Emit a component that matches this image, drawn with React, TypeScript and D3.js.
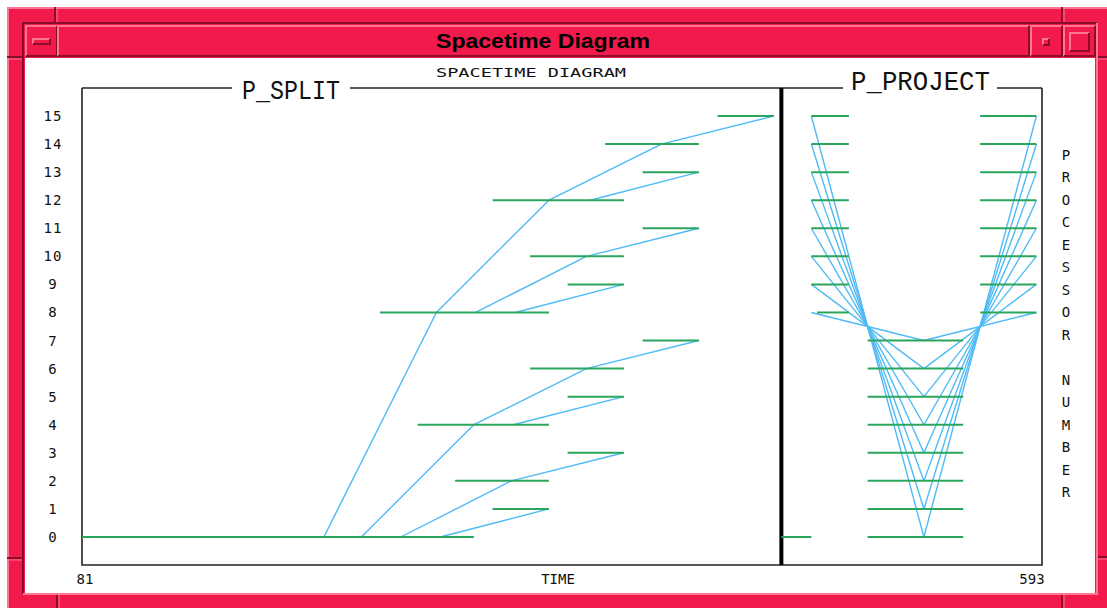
import * as d3 from "d3"

// busy intervals: [processor, start, end]
const splitBusy: [number, number, number][] = [
	[0, 81, 290],
	[1, 300, 330],
	[2, 280, 330],
	[3, 340, 370],
	[4, 260, 330],
	[5, 340, 370],
	[6, 320, 370],
	[7, 380, 410],
	[8, 240, 330],
	[9, 340, 370],
	[10, 320, 370],
	[11, 380, 410],
	[12, 300, 370],
	[13, 380, 410],
	[14, 360, 410],
	[15, 420, 450],
]

// messages: [from, sendTime, to, recvTime]
const splitMsgs: [number, number, number, number][] = [
	[0, 210, 8, 270],
	[0, 230, 4, 290],
	[0, 251, 2, 310],
	[0, 272, 1, 330],
	[8, 270, 12, 330],
	[8, 291, 10, 350],
	[8, 312, 9, 370],
	[4, 290, 6, 350],
	[4, 311, 5, 370],
	[2, 310, 3, 370],
	[12, 330, 14, 390],
	[12, 352, 13, 410],
	[10, 350, 11, 410],
	[6, 350, 7, 410],
	[14, 390, 15, 450],
]

const projectBusy: [number, number, number][] = [
	[0, 454, 470],
	[8, 473, 490],
	[9, 470, 490],
	[10, 470, 490],
	[11, 470, 490],
	[12, 470, 490],
	[13, 470, 490],
	[14, 470, 490],
	[15, 470, 490],
	[0, 500, 551],
	[1, 500, 551],
	[2, 500, 551],
	[3, 500, 551],
	[4, 500, 551],
	[5, 500, 551],
	[6, 500, 551],
	[7, 500, 551],
	[8, 560, 590],
	[9, 560, 590],
	[10, 560, 590],
	[11, 560, 590],
	[12, 560, 590],
	[13, 560, 590],
	[14, 560, 590],
	[15, 560, 590],
]

const projectMsgs: [number, number, number, number][] = [
	[15, 470, 0, 530],
	[14, 470, 1, 530],
	[13, 470, 2, 530],
	[12, 470, 3, 530],
	[11, 470, 4, 530],
	[10, 470, 5, 530],
	[9, 470, 6, 530],
	[8, 470, 7, 530],
	[0, 530, 15, 590],
	[1, 530, 14, 590],
	[2, 530, 13, 590],
	[3, 530, 12, 590],
	[4, 530, 11, 590],
	[5, 530, 10, 590],
	[6, 530, 9, 590],
	[7, 530, 8, 590],
]

const processors = d3.range(0, 16)
const timeDomain = [81, 593]
const phaseBreak = 454
const sideLabel = ["P", "R", "O", "C", "E", "S", "S", "O", "R", "", "N", "U", "M", "B", "E", "R"]

const RED = "#f2194b"
const LIGHT = "#ff7592"
const DARK = "#8a0d2b"
const GREEN = "#2aa65c"
const BLUE = "#4fbaf5"
const MONO = "'DejaVu Sans Mono', monospace"

function Bevel({ x, y, w, h, raised = true }) {
	const tl = raised ? LIGHT : DARK
	const br = raised ? DARK : LIGHT
	return (
		<g>
			<path d={`M${x},${y + h} V${y} H${x + w}`} stroke={tl} strokeWidth={2} fill="none" />
			<path d={`M${x + w},${y} V${y + h} H${x}`} stroke={br} strokeWidth={2} fill="none" />
		</g>
	)
}

function Frame() {
	return (
		<g>
			<rect x={7} y={7} width={1110} height={610} fill={RED} />
			<path d="M8,612 V8 H1112" stroke={LIGHT} strokeWidth={2} fill="none" />
			{/* corner separators */}
			{[55, 1062].map((x) => (
				<g key={"t" + x}>
					<line x1={x} y1={7} x2={x} y2={23} stroke={DARK} strokeWidth={2} />
					<line x1={x + 2} y1={7} x2={x + 2} y2={23} stroke={LIGHT} strokeWidth={1} />
				</g>
			))}
			{[57, 1062].map((x) => (
				<g key={"b" + x}>
					<line x1={x} y1={595} x2={x} y2={610} stroke={DARK} strokeWidth={2} />
					<line x1={x + 2} y1={595} x2={x + 2} y2={610} stroke={LIGHT} strokeWidth={1} />
				</g>
			))}
			{[57, 558].map((y) => (
				<g key={"l" + y}>
					<line x1={7} y1={y} x2={23} y2={y} stroke={DARK} strokeWidth={2} />
					<line x1={7} y1={y + 2} x2={23} y2={y + 2} stroke={LIGHT} strokeWidth={1} />
				</g>
			))}
			{[57, 557].map((y) => (
				<g key={"r" + y}>
					<line x1={1097} y1={y} x2={1110} y2={y} stroke={DARK} strokeWidth={2} />
					<line x1={1097} y1={y + 2} x2={1110} y2={y + 2} stroke={LIGHT} strokeWidth={1} />
				</g>
			))}
			<Bevel x={23} y={23} w={1074} h={571} raised={false} />
			{/* title bar */}
			<rect x={25} y={25} width={1070} height={32} fill={RED} />
			<Bevel x={26} y={26} w={31} h={30} />
			<Bevel x={58} y={26} w={971} h={30} />
			<Bevel x={1031} y={26} w={31} h={30} />
			<Bevel x={1064} y={26} w={31} h={30} />
			<rect x={33} y={39} width={17} height={5} fill={RED} />
			<Bevel x={33} y={39} w={17} h={5} />
			<rect x={1043} y={39} width={6} height={6} fill={RED} />
			<Bevel x={1043} y={39} w={6} h={6} />
			<Bevel x={1070} y={33} w={19} h={18} />
			<text
				x={543}
				y={48}
				textAnchor="middle"
				fontFamily="'Liberation Sans', Arial, sans-serif"
				fontWeight="bold"
				fontSize={20}
				textLength={214}
				lengthAdjust="spacingAndGlyphs"
				fill="#000"
			>
				Spacetime Diagram
			</text>
			<rect x={25} y={58} width={1070} height={535} fill="#fff" />
		</g>
	)
}

export default function App() {
	const x = d3.scaleLinear().domain(timeDomain).range([82, 1042])
	const y = d3.scaleLinear().domain([0, 15]).range([537, 116])
	const boxTop = 88
	const boxBottom = 565
	const xBreak = x(phaseBreak)

	const segs = (rows: [number, number, number][], key: string) =>
		rows.map(([p, s, e], i) => (
			<line key={key + i} x1={x(s)} x2={x(e)} y1={y(p)} y2={y(p)} stroke={GREEN} strokeWidth={2} />
		))

	const msgs = (rows: [number, number, number, number][], key: string) =>
		rows.map(([a, ts, b, tr], i) => (
			<line key={key + i} x1={x(ts)} y1={y(a)} x2={x(tr)} y2={y(b)} stroke={BLUE} strokeWidth={1.4} />
		))

	const sideStep = (492 - 155) / 15

	return (
		<svg width={1107} height={608} style={{ position: "absolute", left: 0, top: 0, display: "block" }}>
			<Frame />

			<text x={531} y={77} textAnchor="middle" fontFamily={MONO} fontSize={13} textLength={190} lengthAdjust="spacingAndGlyphs" fill="#111">
				SPACETIME DIAGRAM
			</text>

			{/* panel box */}
			<g stroke="#222" strokeWidth={1.6} fill="none">
				<path d={`M${x(timeDomain[0])},${boxTop} V${boxBottom} H${x(timeDomain[1])} V${boxTop}`} />
				<line x1={82} x2={232} y1={boxTop} y2={boxTop} />
				<line x1={350} x2={843} y1={boxTop} y2={boxTop} />
				<line x1={997} x2={1042} y1={boxTop} y2={boxTop} />
			</g>
			<line x1={xBreak} x2={xBreak} y1={boxTop} y2={boxBottom} stroke="#000" strokeWidth={4} />

			<text x={242} y={99} fontFamily="'Liberation Mono', monospace" fontSize={28} textLength={98} lengthAdjust="spacingAndGlyphs" fill="#111">
				P_SPLIT
			</text>
			<text x={851} y={90} fontFamily="'Liberation Mono', monospace" fontSize={28} textLength={139} lengthAdjust="spacingAndGlyphs" fill="#111">
				P_PROJECT
			</text>

			{/* y tick labels */}
			{processors.map((p) => (
				<text key={"yl" + p} x={53} y={y(p) + 5} textAnchor="middle" fontFamily={MONO} fontSize={14} letterSpacing={1} fill="#111">
					{p}
				</text>
			))}

			{sideLabel.map((c, i) => (
				<text key={"sl" + i} x={1066} y={155 + i * sideStep + 5} textAnchor="middle" fontFamily={MONO} fontSize={14} fill="#111">
					{c}
				</text>
			))}

			<text x={85} y={584} textAnchor="middle" fontFamily={MONO} fontSize={14} fill="#111">
				{timeDomain[0]}
			</text>
			<text x={558} y={584} textAnchor="middle" fontFamily={MONO} fontSize={14} fill="#111">
				TIME
			</text>
			<text x={1032} y={584} textAnchor="middle" fontFamily={MONO} fontSize={14} fill="#111">
				{timeDomain[1]}
			</text>

			{msgs(splitMsgs, "sm")}
			{msgs(projectMsgs, "pm")}
			{segs(splitBusy, "sb")}
			{segs(projectBusy, "pb")}
		</svg>
	)
}
